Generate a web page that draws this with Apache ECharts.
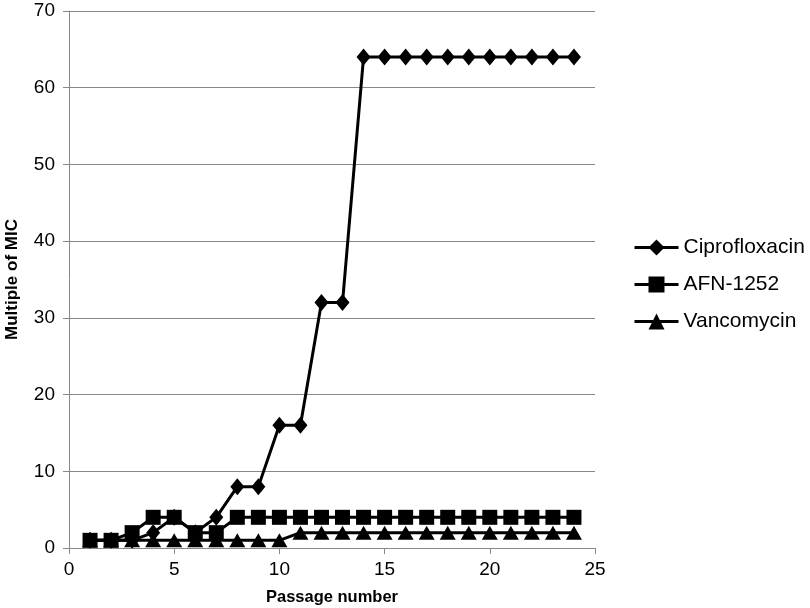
<!DOCTYPE html>
<html><head><meta charset="utf-8">
<script src="https://cdn.jsdelivr.net/npm/echarts@6/dist/echarts.min.js"></script>
<style>html,body{margin:0;padding:0;background:#fff}#c{width:810px;height:608px}</style>
</head><body><div id="c"></div>
<script>
const passages = [1,2,3,4,5,6,7,8,9,10,11,12,13,14,15,16,17,18,19,20,21,22,23,24];
const cipro = [1,1,1,2,4,2,4,8,8,16,16,32,32,64,64,64,64,64,64,64,64,64,64,64];
const afn = [1,1,2,4,4,2,2,4,4,4,4,4,4,4,4,4,4,4,4,4,4,4,4,4];
const vanco = [1,1,1,1,1,1,1,1,1,1,2,2,2,2,2,2,2,2,2,2,2,2,2,2];
const seriesNames = ['Ciprofloxacin','AFN-1252','Vancomycin'];
const symbols = ['diamond','rect','triangle'];
const values = [cipro, afn, vanco];

const chart = echarts.init(document.getElementById('c'), null, {renderer:'canvas'});
const font = 'Liberation Sans, Arial, sans-serif';
chart.setOption({
  animation:false,
  grid:{left:69,right:215,top:11,bottom:60,containLabel:false,outerBoundsMode:'none'},
  xAxis:{type:'value',min:0,max:25,interval:5,
    name:'Passage number',nameLocation:'middle',nameGap:41,
    nameTextStyle:{fontFamily:font,fontSize:16.5,fontWeight:'bold',color:'#000'},
    axisLine:{show:true,lineStyle:{color:'#888',width:1}},
    axisTick:{show:true,length:6,lineStyle:{color:'#888'}},
    axisLabel:{fontFamily:font,fontSize:19,color:'#000',margin:12},
    splitLine:{show:false}},
  yAxis:{type:'value',min:0,max:70,interval:10,
    name:'Multiple of MIC',nameLocation:'middle',nameGap:48,
    nameTextStyle:{fontFamily:font,fontSize:17,fontWeight:'bold',color:'#000'},
    axisLine:{show:true,lineStyle:{color:'#888',width:1}},
    axisTick:{show:true,length:6,lineStyle:{color:'#888'}},
    axisLabel:{fontFamily:font,fontSize:19,color:'#000',margin:14},
    splitLine:{show:true,lineStyle:{color:'#888',width:1}}},
  legend:{orient:'vertical',left:628,top:232,itemGap:16,itemWidth:44,itemHeight:20,
    textStyle:{fontFamily:font,fontSize:21,color:'#000'},
    lineStyle:{width:3},
    data:seriesNames},
  series: seriesNames.map((n,i)=>({
    name:n,type:'line',
    data:passages.map((p,j)=>[p,values[i][j]]),
    symbol:symbols[i],
    symbolSize: symbols[i]==='diamond'?[14,17]:(symbols[i]==='rect'?15:[16,14]),
    lineStyle:{color:'#000',width:3},
    itemStyle:{color:'#000'},
    z: 3-i
  }))
});
</script></body></html>
